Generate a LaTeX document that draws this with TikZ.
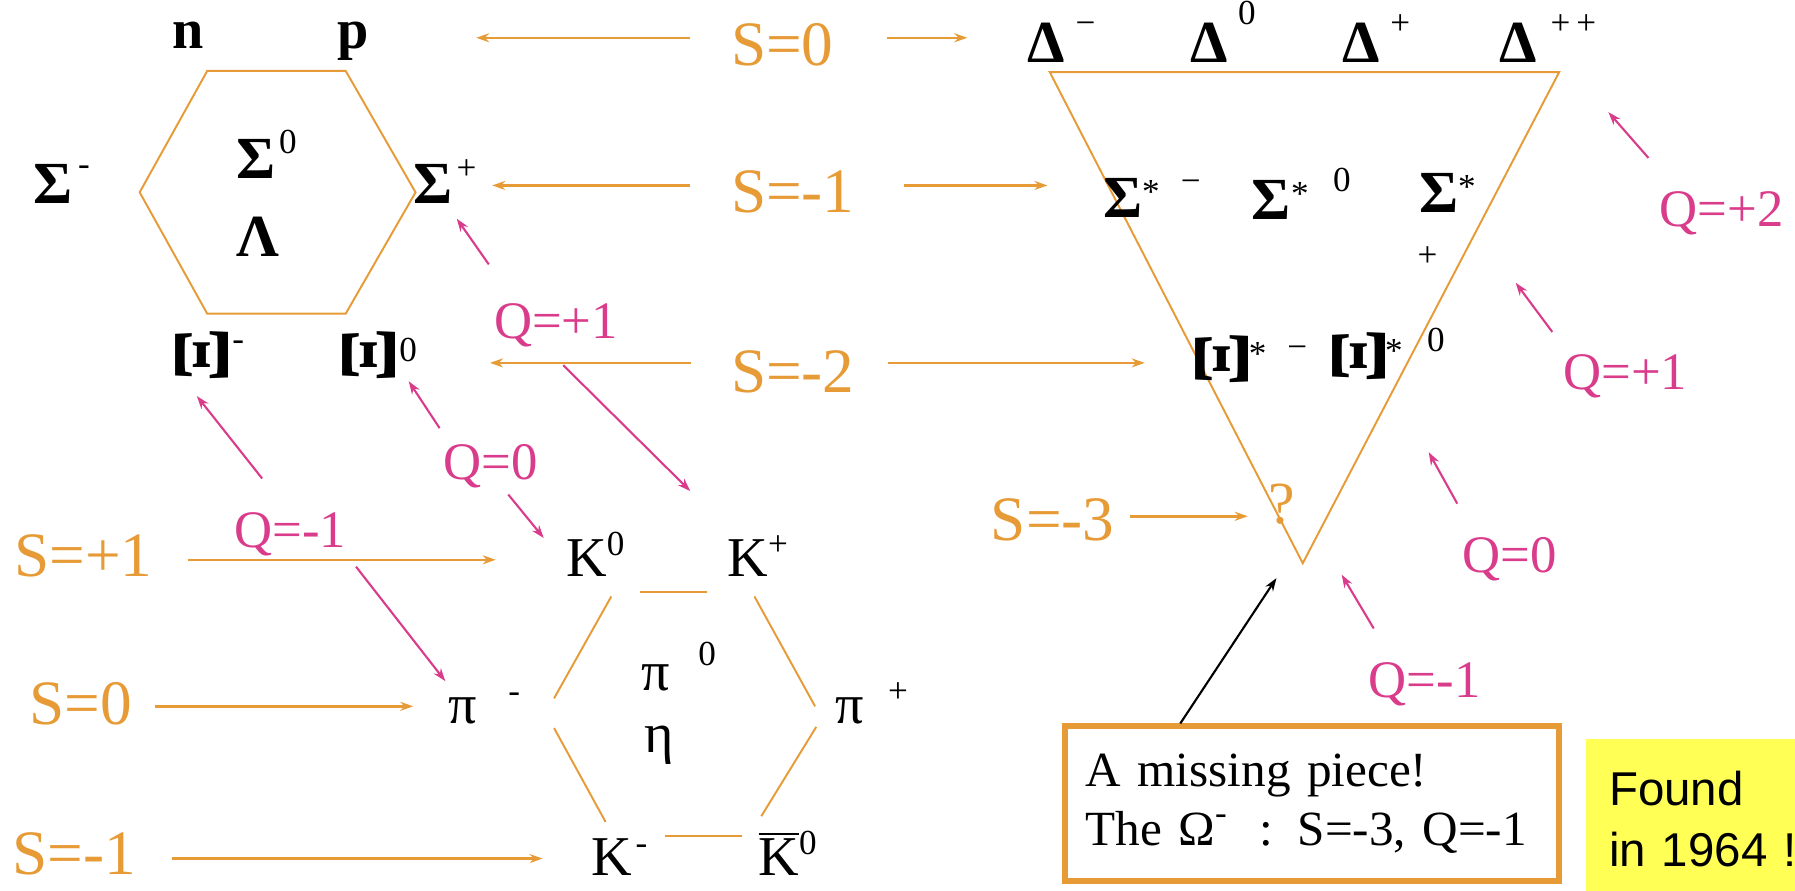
\documentclass[tikz,border=0pt]{standalone}
\usepackage{fontspec}
\setmainfont{Liberation Serif}
\newfontfamily\sansf{Liberation Sans}
\usetikzlibrary{calc, positioning}
\usetikzlibrary{arrows.meta}

\definecolor{sorange}{RGB}{231,155,55}
\definecolor{qpink}{RGB}{218,60,140}
\definecolor{hlyellow}{RGB}{255,255,85}

% small raised index, regular weight
\newcommand{\sps}[2][7pt]{\raisebox{#1}{\mdseries\fontsize{10}{10}\selectfont #2}}
% the Xi is printed lying on its side
\newcommand{\rxi}{\rotatebox{90}{\fontsize{23}{23}\selectfont Ξ}}

\begin{document}
\begin{tikzpicture}[x=0.11448mm, y=-0.11448mm,
  sarr/.style={sorange, line width=0.7pt, -{Stealth[length=1.3mm,width=0.9mm]}},
  qarr/.style={qpink, line width=0.6pt, -{Stealth[length=1.3mm,width=0.9mm]}},
  slab/.style={sorange, anchor=base west, inner sep=0pt, font=\fontsize{18}{18}\selectfont},
  qlab/.style={qpink, anchor=base west, inner sep=0pt, font=\fontsize{15}{15}\selectfont},
  bary/.style={anchor=base west, inner sep=0pt, font=\fontsize{17}{17}\selectfont\bfseries},
  meso/.style={anchor=base west, inner sep=0pt, font=\fontsize{16}{16}\selectfont},
  hexline/.style={sorange, line width=0.55pt}]
\useasboundingbox (0,0) rectangle (1568,778);

% baryon octet
\draw[hexline] (181,62) -- (302,62) -- (363,168) -- (302,274) -- (181,274) -- (122,168) -- cycle;
\node[bary, font=\fontsize{16}{16}\selectfont\bfseries] (nn) at (150,42) {n};
\node[bary, font=\fontsize{16}{16}\selectfont\bfseries] (pp) at (294,42) {p};
\node[bary] (sigm) at (29,178) {Σ\hspace{1.5pt}\sps[8pt]{-}};
\node[bary] (sigz) at (206,156) {Σ\hspace{1pt}\sps{0}};
\node[bary] (lam) at (206,224) {Λ};
\node[bary] (sigp) at (361,178) {Σ\hspace{1pt}\sps[7pt]{+}};
\node[bary] (xim) at (153,334) {\rxi\hspace{1pt}\sps[9pt]{-}};
\node[bary] (xiz) at (299,334) {\rxi\hspace{1pt}\sps[6pt]{0}};

% decuplet
\draw[hexline] (917,63) -- (1362,63) -- (1138,492) -- cycle;
\node[bary] (dm) at (897,55) {Δ\hspace{3pt}\sps[8pt]{−}};
\node[bary] (dz) at (1039,55) {Δ\hspace{3pt}\sps[11pt]{0}};
\node[bary] (dp) at (1172,55) {Δ\hspace{3pt}\sps[8pt]{+}};
\node[bary] (dpp) at (1309,55) {Δ\hspace{4pt}\sps[8pt]{+\,+}};
\node[bary] (ssm) at (963,190) {Σ\sps[4pt]{*}\hspace{6pt}\sps[7pt]{−}};
\node[bary] (ssz) at (1093,192) {Σ\sps[4pt]{*}\hspace{7pt}\sps[8pt]{0}};
\node[bary] (ssp) at (1239,186) {Σ\sps[4pt]{*}};
\node[inner sep=0pt, font=\fontsize{10}{10}\selectfont] (sspc) at (1247,224) {+};
\node[bary] (xsm) at (1044,338) {\rxi\sps[6pt]{*}\hspace{6pt}\sps[8pt]{−}};
\node[bary] (xsz) at (1163,335) {\rxi\sps[6pt]{*}\hspace{7pt}\sps[9pt]{0}};
\node[sorange, inner sep=0pt, font=\fontsize{17}{17}\selectfont] (qm) at (1120,440) {?};

% meson octet
\draw[hexline] (559,517) -- (618,517);
\draw[hexline] (534,521) -- (484,610);
\draw[hexline] (484,636) -- (529,718);
\draw[hexline] (581,730) -- (648,730);
\draw[hexline] (665,713) -- (713,635);
\draw[hexline] (659,521) -- (712,617);
\node[meso] (kz) at (494,504) {K\sps[6pt]{0}};
\node[meso] (kp) at (635,504) {K\sps[6pt]{+}};
\node[meso] (pim) at (391,632) {π\hspace{9pt}\sps[6pt]{-}};
\node[meso] (piz) at (560,603) {π\hspace{8pt}\sps[7pt]{0}};
\node[meso] (eta) at (562,657) {η};
\node[meso] (pip) at (729,632) {π\hspace{7pt}\sps[6pt]{+}};
\node[meso] (km) at (516,765) {K\hspace{1pt}\sps[6pt]{-}};
\node[meso] (kbz) at (662,765) {$\overline{\mbox{K}}$\sps[6pt]{0}};

% strangeness labels
\node[slab] (s0) at (638,57) {S=0};
\node[slab] (s1) at (638,186) {S=-1};
\node[slab] (s2) at (638,343) {S=-2};
\node[slab] (s3) at (865,472) {S=-3};
\node[slab] (mp1) at (12,504) {S=+1};
\node[slab] (m0) at (25,633) {S=0};
\node[slab] (mm1) at (10,764) {S=-1};

\coordinate (s0a) at (603,33);   \coordinate (s0b) at (416,33);
\coordinate (s0c) at (775,33);   \coordinate (s0d) at (845,33);
\coordinate (s1a) at (603,162);  \coordinate (s1b) at (430,162);
\coordinate (s1c) at (790,162);  \coordinate (s1d) at (915,162);
\coordinate (s2a) at (604,317);  \coordinate (s2b) at (428,317);
\coordinate (s2c) at (776,317);  \coordinate (s2d) at (1000,317);
\coordinate (s3a) at (987,451);  \coordinate (s3b) at (1090,451);
\coordinate (mp1a) at (164,489); \coordinate (mp1b) at (433,489);
\coordinate (m0a) at (135,617);  \coordinate (m0b) at (361,617);
\coordinate (mm1a) at (150,750); \coordinate (mm1b) at (474,750);
\foreach \u/\v in {s0a/s0b, s0c/s0d, s1a/s1b, s1c/s1d, s2a/s2b, s2c/s2d, s3a/s3b, mp1a/mp1b, m0a/m0b, mm1a/mm1b}
  \draw[sarr] (\u) -- (\v);

% charge labels
\node[qlab] (qp1) at (431,296) {Q=+1};
\node[qlab] (qz) at (387,419) {Q=0};
\node[qlab] (qm1) at (204,478) {Q=-1};
\node[qlab] (rqp2) at (1449,198) {Q=+2};
\node[qlab] (rqp1) at (1365,340) {Q=+1};
\node[qlab] (rqz) at (1277,500) {Q=0};
\node[qlab] (rqm1) at (1195,609) {Q=-1};

\coordinate (qa1) at (427,231);   \coordinate (qb1) at (399,191);
\coordinate (qa2) at (492,319);   \coordinate (qb2) at (603,429);
\coordinate (qa3) at (384,374);   \coordinate (qb3) at (357,333);
\coordinate (qa4) at (444,432);   \coordinate (qb4) at (475,470);
\coordinate (qa5) at (229,418);   \coordinate (qb5) at (172,346);
\coordinate (qa6) at (311,495);   \coordinate (qb6) at (389,595);
\coordinate (qa7) at (1440,138);  \coordinate (qb7) at (1405,98);
\coordinate (qa8) at (1356,290);  \coordinate (qb8) at (1324,247);
\coordinate (qa9) at (1273,440);  \coordinate (qb9) at (1248,395);
\coordinate (qa10) at (1200,549); \coordinate (qb10) at (1172,502);
\foreach \i in {1,...,10} \draw[qarr] (qa\i) -- (qb\i);

% the missing piece
\node[draw=sorange, line width=1.6pt, anchor=north west, minimum width=49.4mm,
      minimum height=15.5mm, text width=45.3mm, inner xsep=2mm, align=left,
      font=\fontsize{14}{17}\selectfont] (box) at (928,632)
      {A missing piece!\\The Ω\sps[6pt]{-}\ \ : S=-3, Q=-1};
\coordinate (omg) at (1115,505);
\draw[line width=0.6pt, -{Stealth[length=1.3mm,width=0.9mm]}] ($(box.north west)+(103,0)$) -- (omg);

\node[fill=hlyellow, anchor=north west, minimum width=25mm, minimum height=16mm,
      text width=21mm, inner xsep=2.3mm, align=left,
      font=\sansf\fontsize{13.5}{17.3}\selectfont] (found) at (1385,645) {Found\\in 1964 !};

\end{tikzpicture}
\end{document}
